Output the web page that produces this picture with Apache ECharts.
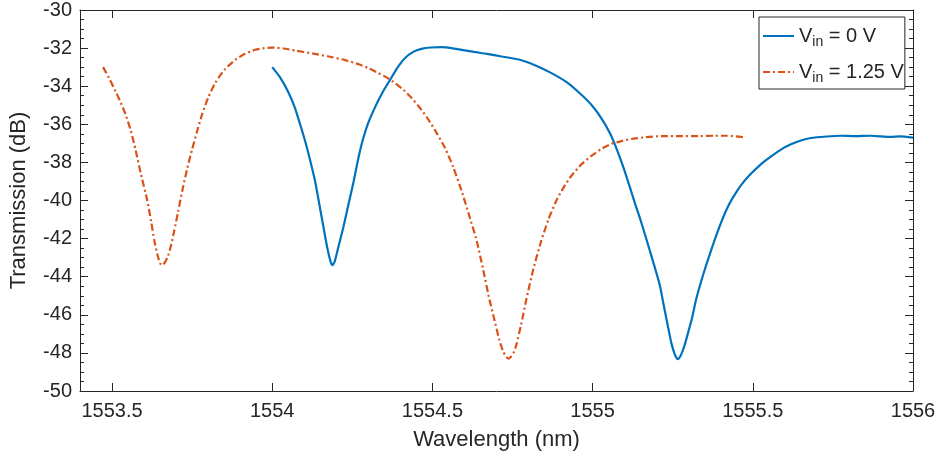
<!DOCTYPE html>
<html>
<head>
<meta charset="utf-8">
<script src="https://cdn.jsdelivr.net/npm/echarts@6/dist/echarts.min.js"></script>
<style>
  html, body { margin: 0; padding: 0; background: #fff; }
  #chart { width: 941px; height: 462px; }
</style>
</head>
<body>
<div id="chart"></div>
<script>
// Transmission spectra of the ring resonator for two bias voltages
const wl0 = [1554.000, 1554.025, 1554.050, 1554.070, 1554.087, 1554.103, 1554.120, 1554.134, 1554.147,
  1554.160, 1554.172, 1554.182, 1554.188, 1554.195, 1554.207, 1554.222, 1554.238, 1554.254, 1554.266,
  1554.279, 1554.298, 1554.321, 1554.345, 1554.368, 1554.392, 1554.414, 1554.440, 1554.466, 1554.495,
  1554.529, 1554.560, 1554.591, 1554.630, 1554.670, 1554.716, 1554.770, 1554.820, 1554.870, 1554.920,
  1554.965, 1555.000, 1555.030, 1555.055, 1555.074, 1555.098, 1555.120, 1555.135, 1555.150, 1555.178,
  1555.209, 1555.222, 1555.235, 1555.246, 1555.257, 1555.266, 1555.276, 1555.287, 1555.297, 1555.310,
  1555.323, 1555.345, 1555.370, 1555.400, 1555.423, 1555.447, 1555.470, 1555.494, 1555.525, 1555.556,
  1555.590, 1555.619, 1555.650, 1555.681, 1555.730, 1555.775, 1555.820, 1555.868, 1555.930, 1555.960,
  1556.000];
const tr0 = [-33.0, -33.55, -34.3, -35.1, -36.0, -36.9, -38.0, -39.0, -40.2,
  -41.4, -42.5, -43.2, -43.4, -43.2, -42.4, -41.4, -40.2, -39.0, -38.0,
  -37.05, -36.0, -35.1, -34.3, -33.66, -33.0, -32.53, -32.2, -32.04, -31.97,
  -31.95, -32.0, -32.09, -32.2, -32.3, -32.44, -32.6, -32.9, -33.3, -33.8,
  -34.45, -35.05, -35.75, -36.5, -37.25, -38.35, -39.5, -40.3, -41.05, -42.6,
  -44.4, -45.5, -46.6, -47.5, -48.1, -48.33, -48.1, -47.6, -47.0, -46.2,
  -45.2, -43.9, -42.6, -41.2, -40.3, -39.6, -39.05, -38.6, -38.1, -37.7,
  -37.3, -37.05, -36.85, -36.72, -36.64, -36.6, -36.62, -36.6, -36.66, -36.63,
  -36.7];

const wl125 = [1553.472, 1553.490, 1553.511, 1553.527, 1553.542, 1553.558, 1553.573, 1553.590, 1553.610,
  1553.622, 1553.632, 1553.641, 1553.650, 1553.657, 1553.665, 1553.675, 1553.685, 1553.694, 1553.706,
  1553.719, 1553.735, 1553.750, 1553.765, 1553.781, 1553.800, 1553.822, 1553.850, 1553.885, 1553.915,
  1553.947, 1553.975, 1553.999, 1554.035, 1554.072, 1554.125, 1554.176, 1554.225, 1554.270, 1554.300,
  1554.331, 1554.358, 1554.383, 1554.410, 1554.435, 1554.460, 1554.487, 1554.513, 1554.539, 1554.565,
  1554.591, 1554.615, 1554.638, 1554.658, 1554.678, 1554.694, 1554.709, 1554.720, 1554.730, 1554.737,
  1554.745, 1554.753, 1554.762, 1554.777, 1554.793, 1554.815, 1554.840, 1554.862, 1554.887, 1554.910,
  1554.934, 1554.965, 1554.996, 1555.027, 1555.058, 1555.090, 1555.120, 1555.165, 1555.214, 1555.270,
  1555.330, 1555.380, 1555.420, 1555.469];
const tr125 = [-33.0, -33.55, -34.27, -34.85, -35.48, -36.3, -37.31, -38.6, -40.0,
  -41.1, -42.1, -42.8, -43.3, -43.4, -43.25, -42.9, -42.3, -41.6, -40.6,
  -39.5, -38.3, -37.31, -36.4, -35.48, -34.6, -33.83, -33.15, -32.61, -32.3,
  -32.09, -32.0, -31.97, -32.02, -32.13, -32.28, -32.44, -32.62, -32.85, -33.05,
  -33.31, -33.55, -33.83, -34.2, -34.62, -35.12, -35.74, -36.45, -37.23, -38.25,
  -39.49, -40.8, -42.1, -43.6, -45.2, -46.3, -47.33, -47.9, -48.2, -48.3,
  -48.2, -48.0, -47.58, -46.5, -45.2, -43.6, -42.1, -41.0, -40.0, -39.3,
  -38.7, -38.1, -37.66, -37.3, -37.03, -36.88, -36.77, -36.68, -36.62, -36.62,
  -36.62, -36.6, -36.6, -36.67];

const seriesNames = ['V0', 'V125'];
const legendText = { V0: ' = 0 V', V125: ' = 1.25 V' };
const xTicks = [1553.5, 1554, 1554.5, 1555, 1555.5, 1556];

const pairs = (xs, ys) => xs.map((x, i) => [x, ys[i]]);

const FONT = 'Liberation Sans, Arial, Helvetica, sans-serif';
const AX = '#262626';

const axisCommon = {
  axisLine: { show: true, onZero: false, lineStyle: { color: AX, width: 1 } },
  axisTick: { show: true, inside: true, length: 8, lineStyle: { color: AX } },
  minorTick: { show: true, splitNumber: 5, length: 4, lineStyle: { color: AX } },
  splitLine: { show: false }
};

const chart = echarts.init(document.getElementById('chart'));
chart.setOption({
  backgroundColor: '#ffffff',
  animation: false,
  grid: { left: 78, right: 28, top: 8, bottom: 71, containLabel: false },
  legend: {
    orient: 'vertical',
    left: 759,
    top: 17,
    data: seriesNames,
    itemWidth: 31,
    itemHeight: 14,
    itemGap: 10,
    padding: [6, 1, 4, 3],
    borderColor: AX,
    borderWidth: 1,
    backgroundColor: '#fff',
    itemStyle: { color: 'transparent', borderWidth: 0, opacity: 0 },
    formatter: n => '{v|V}{s|in}{v|' + legendText[n] + '}',
    textStyle: {
      rich: {
        v: { fontFamily: FONT, fontSize: 20, color: AX, lineHeight: 26 },
        s: { fontFamily: FONT, fontSize: 14, color: AX, padding: [12, 0, 0, 0], lineHeight: 26 }
      }
    }
  },
  xAxis: [
    Object.assign({}, axisCommon, {
      type: 'value', min: 1553.4, max: 1556, interval: 0.1, position: 'bottom',
      name: 'Wavelength (nm)', nameLocation: 'middle', nameGap: 38,
      nameTextStyle: { fontFamily: FONT, fontSize: 22, color: AX },
      axisTick: Object.assign({}, axisCommon.axisTick, { customValues: xTicks }),
      minorTick: { show: false },
      axisLabel: {
        fontFamily: FONT, fontSize: 20, color: AX, margin: 10,
        customValues: xTicks, formatter: v => String(+v.toFixed(1))
      }
    }),
    Object.assign({}, axisCommon, {
      type: 'value', min: 1553.4, max: 1556, interval: 0.1, position: 'top',
      axisTick: Object.assign({}, axisCommon.axisTick, { customValues: xTicks }),
      minorTick: { show: false },
      axisLabel: { show: false }
    })
  ],
  yAxis: [
    Object.assign({}, axisCommon, {
      type: 'value', min: -50, max: -30, interval: 2, position: 'left',
      name: 'Transmission (dB)', nameLocation: 'middle', nameGap: 50, nameRotate: 90,
      nameTextStyle: { fontFamily: FONT, fontSize: 22, color: AX },
      minorTick: Object.assign({}, axisCommon.minorTick, { splitNumber: 4 }),
      axisLabel: { fontFamily: FONT, fontSize: 20, color: AX, margin: 8 }
    }),
    Object.assign({}, axisCommon, {
      type: 'value', min: -50, max: -30, interval: 2, position: 'right',
      minorTick: Object.assign({}, axisCommon.minorTick, { splitNumber: 4 }),
      axisLabel: { show: false }
    })
  ],
  series: [
    {
      name: 'V0', type: 'line', xAxisIndex: 0, yAxisIndex: 0,
      data: pairs(wl0, tr0), smooth: 0.2, showSymbol: false, symbol: 'none',
      lineStyle: { color: '#0072BD', width: 2.2 }, itemStyle: { color: '#0072BD' }
    },
    {
      name: 'V125', type: 'line', xAxisIndex: 0, yAxisIndex: 0,
      data: pairs(wl125, tr125), smooth: 0.2, showSymbol: false, symbol: 'none',
      lineStyle: { color: '#D95319', width: 2.2, type: [7, 3, 2, 3] }, itemStyle: { color: '#D95319' }
    }
  ]
});
</script>
</body>
</html>
